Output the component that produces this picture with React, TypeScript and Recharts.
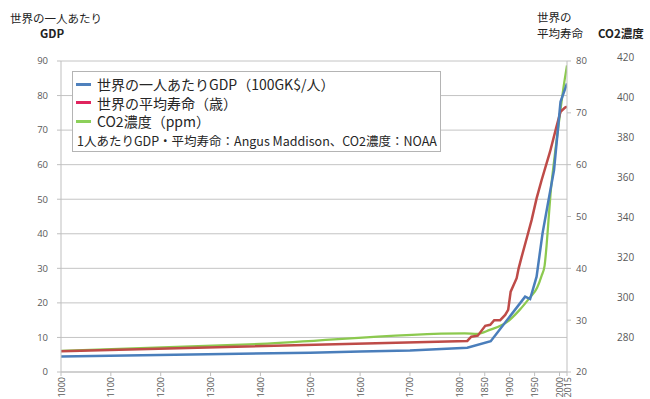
import React from 'react';
import { LineChart, Line, XAxis, YAxis, CartesianGrid } from 'recharts';

// years / values
const gdpYears = [1000, 1500, 1600, 1700, 1815, 1862, 1931, 1941, 1954, 1966, 1978, 1989, 2002, 2015];
const gdpValues = [4.5, 5.6, 5.9, 6.2, 7.0, 8.9, 21.8, 21.1, 27.6, 40.2, 49.8, 58.4, 78.2, 83.5];

const lifeYears = [1000, 1815, 1823, 1836, 1851, 1861, 1869, 1881, 1891, 1897, 1902, 1914, 1918, 1924, 1935, 1944, 1954, 1964, 1981, 1993, 2002, 2011, 2015];
const lifeValues = [24.0, 26.0, 26.8, 27.0, 28.9, 29.1, 30.0, 30.0, 31.0, 32.0, 35.5, 38.1, 40.0, 42.2, 46.1, 49.3, 53.5, 57.0, 62.5, 67.0, 70.2, 71.0, 71.2];

const co2Years = [1000, 1400, 1810, 1835, 1860, 1895, 1920, 1940, 1955, 1964, 1970, 1974, 1978, 1982, 1988, 1998, 2008, 2015];
const co2Values = [273.5, 277, 282.3, 282, 284, 288, 294, 300, 305, 311, 316, 326, 339, 352, 366, 386, 405, 416];

const xTicks = [1000, 1100, 1200, 1300, 1400, 1500, 1600, 1700, 1800, 1850, 1900, 1950, 2000, 2015];
const gdpTicks = [0, 10, 20, 30, 40, 50, 60, 70, 80, 90];
const lifeTicks = [20, 30, 40, 50, 60, 70, 80];
const co2Ticks = [280, 300, 320, 340, 360, 380, 400, 420];

const seriesNames = ['世界の一人あたりGDP（100GK$/人）', '世界の平均寿命（歳）', 'CO2濃度（ppm）'];
const sourceNote = '1人あたりGDP・平均寿命：Angus Maddison、CO2濃度：NOAA';

const toRows = (years: number[], values: number[]) => years.map((year, i) => ({ year, value: values[i] }));
const gdpData = toRows(gdpYears, gdpValues);
const lifeData = toRows(lifeYears, lifeValues);
const co2Data = toRows(co2Years, co2Values);

const LINE_COLORS = ['#4a7ebb', '#be4b48', '#8cc94f'];
const LEGEND_COLORS = ['#4f81bd', '#e0245e', '#8cd05a'];

const JP = '"Noto Sans CJK JP", "Noto Sans", sans-serif';
const NUM = '"Open Sans", "Noto Sans", sans-serif';
const tickStyle = { fontSize: 9.5, fill: '#595959', fontFamily: NUM };

const YearTick = (props: any) => {
  const { x, y, payload } = props;
  return (
    <text
      x={x}
      y={y}
      transform={`rotate(-90 ${x} ${y})`}
      textAnchor="end"
      dominantBaseline="central"
      fontSize={9}
      fill="#595959"
      fontFamily={NUM}
    >
      {payload.value}
    </text>
  );
};

const abs = (left: number, top: number, extra: React.CSSProperties = {}): React.CSSProperties => ({
  position: 'absolute',
  left,
  top,
  whiteSpace: 'nowrap',
  ...extra,
});

export default function App() {
  return (
    <div style={{ position: 'absolute', left: 0, top: 0, width: 650, height: 399, background: '#fff', fontFamily: JP }}>
      <LineChart width={650} height={399} margin={{ top: 61, right: 0, bottom: 0, left: 0 }}>
        <CartesianGrid yAxisId="gdp" vertical={false} stroke="#c4c4c4" />
        <XAxis
          dataKey="year"
          type="number"
          domain={[1000, 2015]}
          ticks={xTicks}
          interval={0}
          height={27}
          tickSize={4}
          tickMargin={1}
          stroke="#bfbfbf"
          tick={<YearTick />}
          allowDataOverflow
        />
        <YAxis
          yAxisId="gdp"
          orientation="left"
          domain={[0, 90]}
          ticks={gdpTicks}
          interval={0}
          width={61}
          tickSize={4}
          tickMargin={9}
          stroke="#bfbfbf"
          tick={tickStyle}
          allowDataOverflow
        />
        <YAxis
          yAxisId="b_co2"
          orientation="right"
          domain={[263, 418.2]}
          ticks={co2Ticks}
          interval={0}
          width={43}
          tickSize={0}
          tickMargin={10}
          axisLine={false}
          tickLine={false}
          tick={{ ...tickStyle, fontSize: 10, textAnchor: 'start' }}
          allowDataOverflow
        />
        <YAxis
          yAxisId="a_life"
          orientation="right"
          domain={[20, 80]}
          ticks={lifeTicks}
          interval={0}
          width={40}
          tickSize={4}
          tickMargin={5}
          stroke="#bfbfbf"
          tick={tickStyle}
          allowDataOverflow
        />
        <Line yAxisId="b_co2" data={co2Data} dataKey="value" type="monotone" stroke={LINE_COLORS[2]} strokeWidth={2.25} dot={false} isAnimationActive={false} />
        <Line yAxisId="a_life" data={lifeData} dataKey="value" type="linear" stroke={LINE_COLORS[1]} strokeWidth={2.5} dot={false} isAnimationActive={false} />
        <Line yAxisId="gdp" data={gdpData} dataKey="value" type="linear" stroke={LINE_COLORS[0]} strokeWidth={2.5} dot={false} isAnimationActive={false} />
      </LineChart>

      {/* axis titles */}
      <div style={abs(10, 10, { fontSize: 11.5, lineHeight: '16px', color: '#222' })}>世界の一人あたり</div>
      <div style={abs(40, 25, { fontSize: 11.5, lineHeight: '16px', fontWeight: 700, color: '#222' })}>GDP</div>
      <div style={abs(537, 9, { fontSize: 11.5, lineHeight: '16px', color: '#222' })}>世界の</div>
      <div style={abs(537, 25, { fontSize: 11.5, lineHeight: '16px', color: '#222' })}>平均寿命</div>
      <div style={abs(598, 25, { fontSize: 11.5, lineHeight: '16px', fontWeight: 700, color: '#222' })}>CO2濃度</div>

      {/* legend box */}
      <div style={abs(72, 71, { width: 367, height: 79, border: '1px solid #b4b4b4', background: '#fff' })}>
        {seriesNames.map((name, i) => (
          <div key={name} style={abs(3, 3 + i * 18.5, { height: 18, display: 'flex', alignItems: 'center' })}>
            <span style={{ display: 'inline-block', width: 15, height: 3, background: LEGEND_COLORS[i], marginRight: 6 }} />
            <span style={{ fontSize: 14, lineHeight: '18px', color: '#262626' }}>{name}</span>
          </div>
        ))}
        <div style={abs(4, 61, { fontSize: 12.5, lineHeight: '16px', color: '#262626' })}>{sourceNote}</div>
      </div>
    </div>
  );
}
